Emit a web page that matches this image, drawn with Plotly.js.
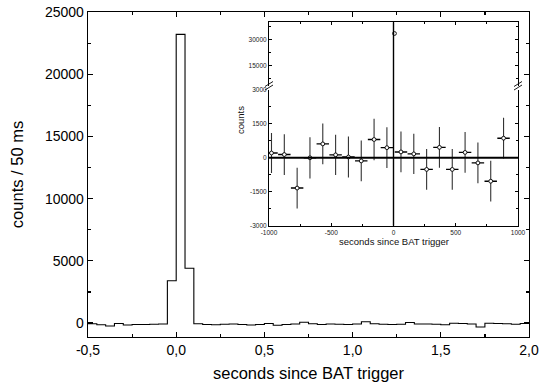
<!DOCTYPE html>
<html>
<head>
<meta charset="utf-8">
<script src="https://cdn.plot.ly/plotly-3.0.1.min.js"></script>
<style>html,body{margin:0;padding:0;background:#fff;}#plot{width:539px;height:388px;}</style>
</head>
<body>
<div id="plot"></div>
<script>
// ---- main light curve: 50 ms bins (left edges) and counts ----
const binEdges = [-0.5,-0.45,-0.4,-0.35,-0.3,-0.25,-0.2,-0.15,-0.1,-0.05,
  0.0,0.05,0.1,0.15,0.2,0.25,0.3,0.35,0.4,0.45,
  0.5,0.55,0.6,0.65,0.7,0.75,0.8,0.85,0.9,0.95,
  1.0,1.05,1.1,1.15,1.2,1.25,1.3,1.35,1.4,1.45,
  1.5,1.55,1.6,1.65,1.7,1.75,1.8,1.85,1.9,1.95,2.0];
const binCounts = [-50,-130,-230,-30,-160,-120,-110,-90,-70,3400,
  23200,4400,-50,-110,-140,-100,-70,-110,-160,-110,
  -40,-170,-120,-80,60,-60,-120,-80,-90,-110,
  -70,110,-50,-90,-110,-100,40,-70,-80,-90,
  -140,-20,-40,-80,-320,-20,-30,-60,-90,-40];

const mainXTicks = [-0.5,0,0.5,1,1.5,2];
const mainXLabels = ["-0,5","0,0","0,5","1,0","1,5","2,0"];
const mainYTicks = [0,5000,10000,15000,20000,25000];
const mainYLabels = ["0","5000","10000","15000","20000","25000"];

// ---- inset: 100 s bins around trigger ----
const insetTime = [-980,-877,-774,-671,-568,-465,-362,-259,-156,-53,
  60,163,266,369,472,575,678,781,884];
const insetCounts = [205,137,-1340,-7,606,123,29,-144,800,440,
  252,166,-519,454,-519,231,-231,-1038,858];
const insetErr = [880,900,900,910,900,890,900,900,910,900,
  900,890,900,900,900,900,900,900,900];
const insetHalfWidth = [50,50,50,50,50,50,50,50,50,50,50,50,50,50,50,50,50,50,50];
const burstTime = [8];
const burstCounts = [33500];
const burstErr = [700];
const burstHalfWidth = [8];

const insetXTicks = [-1000,-500,0,500,1000];
const insetXLabels = ["-1000","-500","0","500","1000"];
const insetYLowTicks = [-3000,-1500,0,1500,3000];
const insetYLowLabels = ["-3000","-1500","0","1500","3000"];
const insetYHighTicks = [15000,30000];
const insetYHighLabels = ["15000","30000"];

// ---- geometry helpers (pixel -> paper) ----
const L=88, R=529, T=12, B=337;
const px = v => (v-L)/(R-L);
const py = v => (B-v)/(B-T);

const FONT = "Liberation Sans, Arial, Helvetica, sans-serif";

const markerStyle = {symbol:'circle', size:3.8, color:'#fff', line:{width:0.9,color:'#000'}};

const traces = [
  {x: binEdges, y: binCounts.concat([binCounts[binCounts.length-1]]),
   type:'scatter', mode:'lines', line:{shape:'hv', color:'#000', width:1.1},
   xaxis:'x', yaxis:'y', hoverinfo:'skip'},
  {x: insetTime, y: insetCounts, type:'scatter', mode:'markers',
   marker: markerStyle,
   error_y:{type:'data', array: insetErr, color:'#333', thickness:1.1, width:0},
   error_x:{type:'data', array: insetHalfWidth, color:'#000', thickness:1.4, width:0},
   xaxis:'x2', yaxis:'y2', hoverinfo:'skip'},
  {x: burstTime, y: burstCounts, type:'scatter', mode:'markers',
   marker: markerStyle,
   error_y:{type:'data', array: burstErr, color:'#000', thickness:1, width:0},
   error_x:{type:'data', array: burstHalfWidth, color:'#000', thickness:1, width:0},
   xaxis:'x3', yaxis:'y3', hoverinfo:'skip'}
];

const insetXDom = [px(269), px(518)];
const axCommon = {showgrid:false, zeroline:false, showline:true, linecolor:'#000',
  ticks:'inside', tickcolor:'#000', fixedrange:true};

const layout = {
  width:539, height:388,
  margin:{l:L, r:539-R, t:T, b:388-B},
  paper_bgcolor:'#fff', plot_bgcolor:'#fff',
  showlegend:false,
  font:{family:FONT, color:'#000'},
  xaxis: Object.assign({}, axCommon, {
    domain:[0,1], anchor:'y', range:[-0.5,2.0], mirror:'ticks', linewidth:1.3,
    tickmode:'array', tickvals: mainXTicks, ticktext: mainXLabels,
    ticklen:5, tickwidth:1.2, tickfont:{size:14, family:FONT},
    minor:{tickmode:'linear', tick0:-0.5, dtick:0.25, ticks:'inside', ticklen:3, tickwidth:1.2, tickcolor:'#000', showgrid:false},
    title:{text:'seconds since BAT trigger', font:{size:16.5, family:FONT}, standoff:10}
  }),
  yaxis: Object.assign({}, axCommon, {
    domain:[0,1], anchor:'x', range:[-1120,25000], mirror:'ticks', linewidth:1.3,
    tickmode:'array', tickvals: mainYTicks, ticktext: mainYLabels,
    ticklen:5, tickwidth:1.2, tickfont:{size:14, family:FONT},
    minor:{tickmode:'linear', tick0:0, dtick:2500, ticks:'inside', ticklen:3, tickwidth:1.2, tickcolor:'#000', showgrid:false},
    title:{text:'counts / 50 ms', font:{size:16.5, family:FONT}, standoff:17}
  }),
  xaxis2: Object.assign({}, axCommon, {
    domain: insetXDom, anchor:'y2', range:[-1000,1000], mirror:false, linewidth:1,
    tickmode:'array', tickvals: insetXTicks, ticktext: insetXLabels,
    ticklen:3, tickwidth:1, tickfont:{size:6.5, family:FONT, color:'#222'},
    minor:{tickmode:'linear', tick0:-1000, dtick:250, ticks:'inside', ticklen:2, tickwidth:1, tickcolor:'#000', showgrid:false}
  }),
  xaxis3: Object.assign({}, axCommon, {
    domain: insetXDom, anchor:'y3', overlaying:'x2', side:'top', matches:'x2', range:[-1000,1000], linewidth:1,
    tickmode:'array', tickvals: insetXTicks, showticklabels:false,
    ticklen:3, tickwidth:1,
    minor:{tickmode:'linear', tick0:-1000, dtick:250, ticks:'inside', ticklen:2, tickwidth:1, tickcolor:'#000', showgrid:false}
  }),
  yaxis2: Object.assign({}, axCommon, {
    domain:[py(225.7), py(89.6)], anchor:'x2', range:[-3000,3000], mirror:'ticks', linewidth:1,
    tickmode:'array', tickvals: insetYLowTicks, ticktext: insetYLowLabels,
    ticklen:3, tickwidth:1, tickfont:{size:6.5, family:FONT, color:'#222'},
    minor:{tickmode:'linear', tick0:0, dtick:750, ticks:'inside', ticklen:2, tickwidth:1, tickcolor:'#000', showgrid:false}
  }),
  yaxis3: Object.assign({}, axCommon, {
    domain:[py(86), py(22.3)], anchor:'x3', range:[3000,40000], mirror:'ticks', linewidth:1,
    tickmode:'array', tickvals: insetYHighTicks, ticktext: insetYHighLabels,
    ticklen:3, tickwidth:1, tickfont:{size:6.5, family:FONT, color:'#222'},
    minor:{tickmode:'linear', tick0:0, dtick:7500, ticks:'inside', ticklen:2, tickwidth:1, tickcolor:'#000', showgrid:false}
  }),
  shapes:[
    {type:'line', xref:'x2', yref:'paper', x0:0, x1:0, y0:py(225.7), y1:py(22.3), line:{color:'#000', width:1.4}},
    {type:'line', xref:'paper', yref:'y2', x0:insetXDom[0], x1:insetXDom[1], y0:0, y1:0, line:{color:'#000', width:2}},
    {type:'line', xref:'paper', yref:'paper', x0:px(265), x1:px(273), y0:py(86.5), y1:py(81.5), line:{color:'#000', width:0.9}},
    {type:'line', xref:'paper', yref:'paper', x0:px(265), x1:px(273), y0:py(90), y1:py(85), line:{color:'#000', width:0.9}},
    {type:'line', xref:'paper', yref:'paper', x0:px(514), x1:px(522), y0:py(86.5), y1:py(81.5), line:{color:'#000', width:0.9}},
    {type:'line', xref:'paper', yref:'paper', x0:px(514), x1:px(522), y0:py(90), y1:py(85), line:{color:'#000', width:0.9}}
  ],
  annotations:[
    {text:'seconds since BAT trigger', xref:'paper', yref:'paper', x:px(394), y:py(242), showarrow:false,
     font:{size:9.5, family:FONT, color:'#111'}, xanchor:'center', yanchor:'middle'},
    {text:'counts', xref:'paper', yref:'paper', x:px(240), y:py(120), showarrow:false, textangle:-90,
     font:{size:9.5, family:FONT, color:'#111'}, xanchor:'center', yanchor:'middle'}
  ]
};

Plotly.newPlot('plot', traces, layout, {staticPlot:true, displayModeBar:false});
</script>
</body>
</html>
